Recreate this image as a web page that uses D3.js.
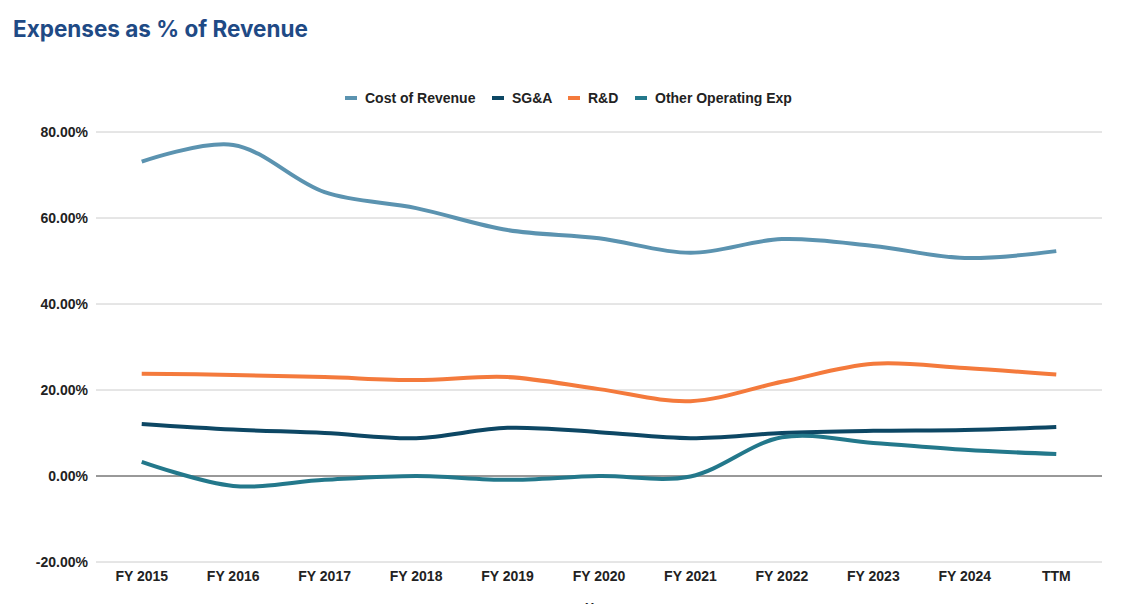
<!doctype html>
<html>
<head>
    <script src="https://d3js.org/d3.v7.min.js"></script>
</head>
<style>
    body { margin: 0; background: #fff; }
    svg text { font-family: "Liberation Sans", Arial, sans-serif; font-weight: bold; fill: #222; }
    .title { font-family: Inter, Roboto, sans-serif; font-size: 22.5px; fill: #1f4a85; }
</style>
<body>
<script>
    var years = ["FY 2015", "FY 2016", "FY 2017", "FY 2018", "FY 2019", "FY 2020", "FY 2021", "FY 2022", "FY 2023", "FY 2024", "TTM"];
    var costOfRevenue = [73.1, 77.0, 66.0, 62.3, 57.2, 55.3, 51.9, 55.1, 53.5, 50.7, 52.3];
    var sga = [12.1, 10.8, 10.0, 8.8, 11.2, 10.2, 8.8, 10.0, 10.5, 10.7, 11.4];
    var rnd = [23.8, 23.5, 23.0, 22.3, 23.0, 20.2, 17.4, 21.9, 26.1, 25.1, 23.6];
    var otherOpEx = [3.3, -2.3, -0.9, 0.0, -0.9, 0.0, -0.1, 9.0, 7.7, 6.1, 5.1];
    var yTicks = [-20, 0, 20, 40, 60, 80];

    var series = [
        { name: "Cost of Revenue", values: costOfRevenue, color: "#5b93b0" },
        { name: "SG&A", values: sga, color: "#0d4764" },
        { name: "R&D", values: rnd, color: "#f47a3c" },
        { name: "Other Operating Exp", values: otherOpEx, color: "#23788b" }
    ];

    var width = 1134, height = 604;
    var plotLeft = 96, plotRight = 1102, plotTop = 132, plotBottom = 562;

    var svg = d3.select("body").append("svg")
        .attr("width", width)
        .attr("height", height);

    svg.append("text")
        .attr("class", "title")
        .attr("x", 13)
        .attr("y", 37)
        .text("Expenses as % of Revenue");

    var x = d3.scalePoint()
        .domain(years)
        .range([plotLeft, plotRight])
        .padding(0.5);

    var y = d3.scaleLinear()
        .domain([-20, 80])
        .range([plotBottom, plotTop]);

    // grid lines
    svg.append("g").selectAll("line")
        .data(yTicks)
        .enter()
        .append("line")
        .attr("x1", plotLeft)
        .attr("x2", plotRight)
        .attr("y1", function (d) { return y(d); })
        .attr("y2", function (d) { return y(d); })
        .attr("stroke", function (d) { return d === 0 ? "#333" : "#ccc"; })
        .attr("stroke-width", 1);

    svg.append("g").selectAll("text")
        .data(yTicks)
        .enter()
        .append("text")
        .attr("x", 88)
        .attr("y", function (d) { return y(d); })
        .attr("dy", ".35em")
        .attr("text-anchor", "end")
        .attr("font-size", "14px")
        .text(function (d) { return d.toFixed(2) + "%"; });

    svg.append("g").selectAll("text")
        .data(years)
        .enter()
        .append("text")
        .attr("x", function (d) { return x(d); })
        .attr("y", 581)
        .attr("text-anchor", "middle")
        .attr("font-size", "14px")
        .text(function (d) { return d; });

    // axis title, cut off at the bottom edge as in the original
    svg.append("text")
        .attr("x", 599)
        .attr("y", 612)
        .attr("text-anchor", "middle")
        .attr("font-size", "13px")
        .text("Year");

    var line = d3.line()
        .x(function (d, i) { return x(years[i]); })
        .y(function (d) { return y(d); })
        .curve(d3.curveCatmullRom.alpha(0.5));

    svg.append("g").selectAll("path")
        .data(series)
        .enter()
        .append("path")
        .attr("d", function (d) { return line(d.values); })
        .attr("fill", "none")
        .attr("stroke", function (d) { return d.color; })
        .attr("stroke-width", 4);

    // legend
    var legendX = [345, 492, 568, 635];
    var lg = svg.append("g").selectAll("g")
        .data(series)
        .enter()
        .append("g")
        .attr("transform", function (d, i) { return "translate(" + legendX[i] + ",98)"; });

    lg.append("rect")
        .attr("width", 12)
        .attr("height", 4)
        .attr("y", -2)
        .attr("fill", function (d) { return d.color; });

    lg.append("text")
        .attr("x", 20)
        .attr("dy", ".35em")
        .attr("font-size", "14px")
        .text(function (d) { return d.name; });
</script>
</body>
</html>
